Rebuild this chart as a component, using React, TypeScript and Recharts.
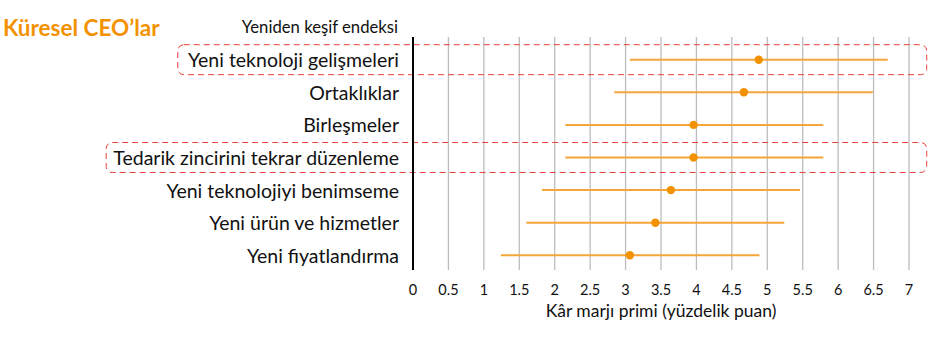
import React from 'react';
import { ScatterChart, Scatter, XAxis, YAxis, CartesianGrid, ErrorBar, ReferenceArea, Label } from 'recharts';

const categories = [
  'Yeni teknoloji gelişmeleri',
  'Ortaklıklar',
  'Birleşmeler',
  'Tedarik zincirini tekrar düzenleme',
  'Yeni teknolojiyi benimseme',
  'Yeni ürün ve hizmetler',
  'Yeni fiyatlandırma',
];
const lows = [3.06, 2.84, 2.15, 2.15, 1.82, 1.6, 1.24];
const mids = [4.88, 4.67, 3.96, 3.96, 3.64, 3.42, 3.06];
const highs = [6.7, 6.49, 5.79, 5.79, 5.46, 5.24, 4.89];
const xTicks = [0, 0.5, 1, 1.5, 2, 2.5, 3, 3.5, 4, 4.5, 5, 5.5, 6, 6.5, 7];
const highlighted = [0, 3];

const data = categories.map((name, i) => ({
  name,
  idx: i,
  mid: mids[i],
  err: [mids[i] - lows[i], highs[i] - mids[i]],
}));

const FONT = 'Lato, "Open Sans", sans-serif';
const ORANGE = '#f39200';
const LINE = '#f5a53a';
const RED = '#e8413a';

const YTick = (props: any) => {
  const { x, y, payload } = props;
  return (
    <text x={x} y={y} textAnchor="end" dominantBaseline="central" fill="#111" fontSize={19.5} fontFamily={FONT}>
      {categories[payload.value]}
    </text>
  );
};

const Dot = (props: any) => {
  const { cx, cy } = props;
  return <circle cx={cx} cy={cy} r={4.2} fill={ORANGE} />;
};

const BoxShape = (props: any) => {
  const { x, y, width, height } = props;
  return (
    <rect x={x} y={y} width={width} height={height} rx={6} ry={6} fill="none" stroke={RED} strokeWidth={1} strokeDasharray="6 4" />
  );
};

const boxLeft: Record<number, number> = { 0: -3.32, 3: -4.33 };

export default function App() {
  return (
    <div style={{ position: 'absolute', left: 0, top: 0, width: 928, height: 342, background: '#fff', fontFamily: FONT }}>
      <div style={{ position: 'absolute', left: 3, top: 14, fontSize: 22.5, fontWeight: 700, color: ORANGE, lineHeight: '28px', whiteSpace: 'nowrap' }}>
        Küresel CEO’lar
      </div>
      <div style={{ position: 'absolute', right: 530, top: 17, fontSize: 16.7, color: '#111', lineHeight: '21px', whiteSpace: 'nowrap' }}>
        Yeniden keşif endeksi
      </div>
      <ScatterChart width={928} height={342} margin={{ top: 37, right: 19, bottom: 0, left: 0 }} style={{ position: 'absolute', left: 0, top: 0 }}>
        <CartesianGrid horizontal={false} stroke="#bdbdbd" strokeWidth={1.3} />
        <XAxis
          type="number"
          dataKey="mid"
          domain={[0, 7]}
          ticks={xTicks}
          interval={0}
          allowDataOverflow
          axisLine={false}
          tickLine={false}
          tickSize={0}
          tickMargin={15}
          height={72}
          tick={{ fill: '#111', fontSize: 14.5, fontFamily: FONT }}
        >
          <Label value="Kâr marjı primi (yüzdelik puan)" position="insideBottom" offset={25} fill="#111" fontSize={17.5} fontFamily={FONT} />
        </XAxis>
        <YAxis
          type="number"
          dataKey="idx"
          domain={[-0.696, 6.451]}
          allowDataOverflow
          reversed
          ticks={[0, 1, 2, 3, 4, 5, 6]}
          interval={0}
          width={413}
          tickLine={false}
          tickSize={0}
          tickMargin={14}
          axisLine={{ stroke: '#000', strokeWidth: 2 }}
          tick={<YTick />}
        />
        {highlighted.map((i) => (
          <ReferenceArea
            key={i}
            x1={boxLeft[i]}
            x2={7.25}
            y1={i - 0.46}
            y2={i + 0.46}
            ifOverflow="visible"
            shape={<BoxShape />}
          />
        ))}
        <Scatter data={data} isAnimationActive={false} shape={<Dot />}>
          <ErrorBar dataKey="err" direction="x" width={0} stroke={LINE} strokeWidth={2} isAnimationActive={false} />
        </Scatter>
      </ScatterChart>
    </div>
  );
}
